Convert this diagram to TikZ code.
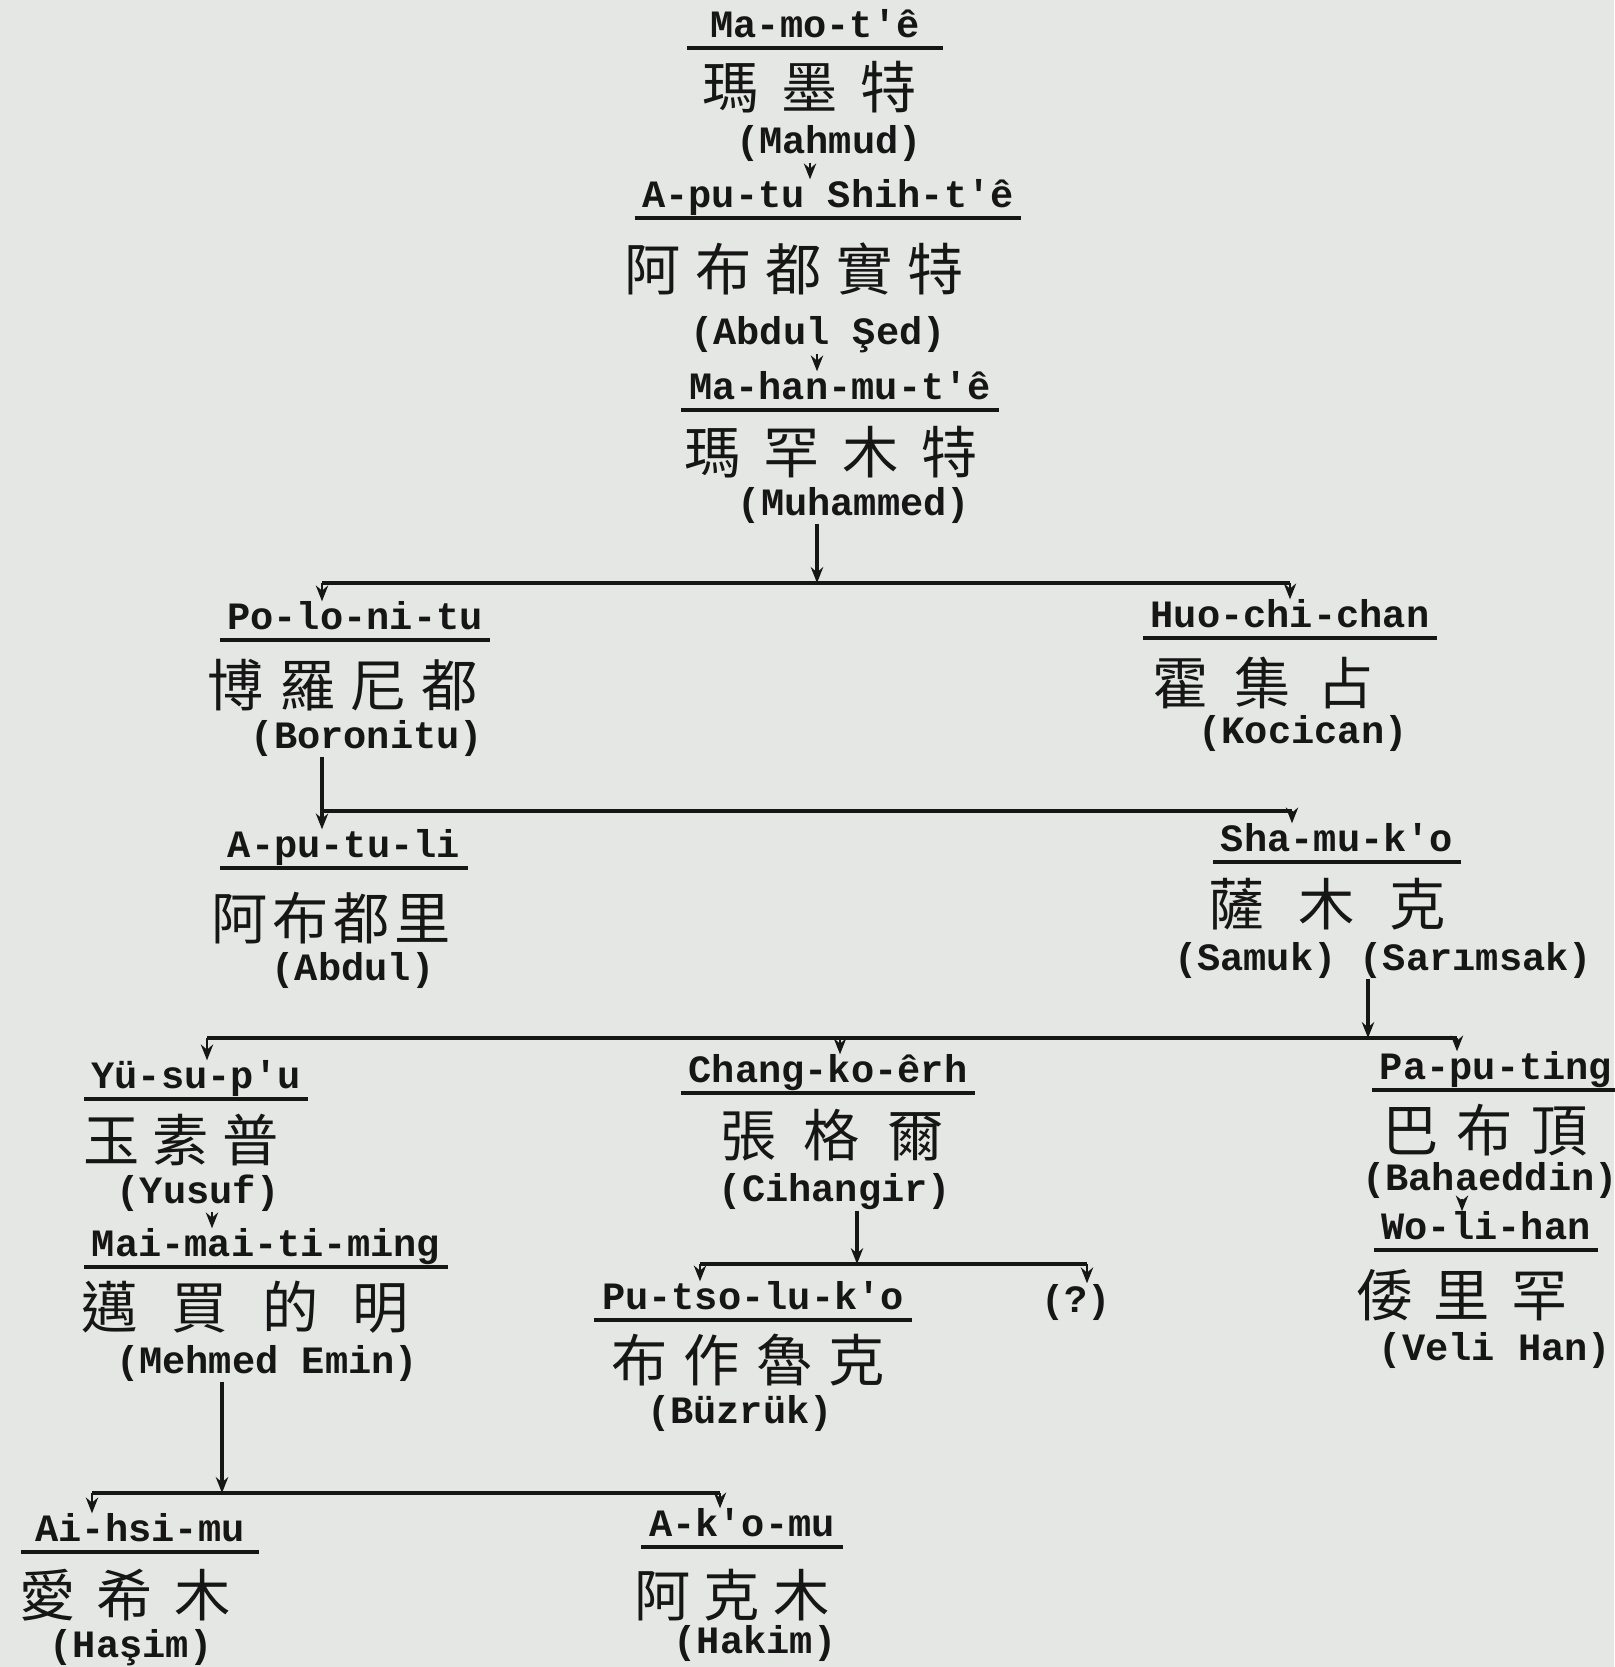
\documentclass[tikz,border=0pt]{standalone}
\usepackage{fontspec}
\setmonofont{Liberation Mono}
\newfontfamily\hanfont{Noto Sans CJK TC}
\usetikzlibrary{arrows.meta}

\definecolor{paper}{RGB}{229,231,228}
\definecolor{ink}{RGB}{22,22,22}

\tikzset{
  rom/.style={anchor=south, text=ink, font=\ttfamily\bfseries\fontsize{11}{12}\selectfont,
    text height=7pt, text depth=2pt, inner xsep=2pt, inner ysep=0.8pt},
  han/.style={text=ink, font={\hanfont\fontsize{16}{18}\selectfont\spaceskip #1pt\relax}, inner sep=1pt},
  tr/.style={text=ink, font=\ttfamily\bfseries\fontsize{11}{12}\selectfont, inner xsep=2pt, inner ysep=0pt},
  arr/.style={draw=ink, line width=0.7pt, -{Stealth[length=4.5pt,width=3.5pt]}},
  bar/.style={draw=ink, line width=1pt},
  uline/.style={draw=ink, line width=0.9pt},
}

\begin{document}
\begin{tikzpicture}[x=0.01cm, y=-0.01cm]
      % paper
      \useasboundingbox (0,0) rectangle (1614,1667);
      \fill[paper] (0,0) rectangle (1614,1667);

      % first three generations
      \node[rom, minimum width=2.55cm] (mahmud-r) at (815,48) {Ma-mo-t'ê};
      \node[han=6.5] (mahmud-c) at (810,87) {瑪 墨 特};
      \node[tr] (mahmud-t) at (829,144) {(Mahmud)};

      \node[rom] (abdulsed-r) at (828,218) {A-pu-tu Shih-t'ê};
      \node[han=4.1] (abdulsed-c) at (794,269) {阿 布 都 實 特};
      \node[tr] (abdulsed-t) at (818,335) {(Abdul Şed)};

      \node[rom] (muhammed-r) at (840,410) {Ma-han-mu-t'ê};
      \node[han=6.5] (muhammed-c) at (831,452) {瑪 罕 木 特};
      \node[tr] (muhammed-t) at (854,505) {(Muhammed)};

      % sons of Muhammed
      \node[rom] (boronitu-r) at (355,640) {Po-lo-ni-tu};
      \node[han=4.3] (boronitu-c) at (343,685) {博 羅 尼 都};
      \node[tr] (boronitu-t) at (367,738) {(Boronitu)};

      \node[rom] (kocican-r) at (1290,638) {Huo-chi-chan};
      \node[han=7.4] (kocican-c) at (1263,683) {霍 集 占};
      \node[tr] (kocican-t) at (1303,733) {(Kocican)};

      % sons of Boronitu
      \node[rom] (abdul-r) at (344,868) {A-pu-tu-li};
      \node[han=1.3] (abdul-c) at (331,918) {阿 布 都 里};
      \node[tr] (abdul-t) at (353,970) {(Abdul)};

      \node[rom] (samuk-r) at (1337,862) {Sha-mu-k'o};
      \node[han=9.8] (samuk-c) at (1327,904) {薩 木 克};
      \node[tr] (samuk-t) at (1383,960) {(Samuk) (Sarımsak)};

      % sons of Samuk
      \node[rom] (yusuf-r) at (196,1099) {Yü-su-p'u};
      \node[han=3.8] (yusuf-c) at (181,1140) {玉 素 普};
      \node[tr] (yusuf-t) at (198,1193) {(Yusuf)};

      \node[rom] (cihangir-r) at (828,1093) {Chang-ko-êrh};
      \node[han=7.7] (cihangir-c) at (832,1135) {張 格 爾};
      \node[tr] (cihangir-t) at (835,1192) {(Cihangir)};

      \node[rom] (bahaeddin-r) at (1496,1090) {Pa-pu-ting};
      \node[han=5.1] (bahaeddin-c) at (1485,1130) {巴 布 頂};
      \node[tr] (bahaeddin-t) at (1490,1180) {(Bahaeddin)};

      % next generation
      \node[rom] (mehmed-r) at (266,1267) {Mai-mai-ti-ming};
      \node[han=9.7] (mehmed-c) at (245,1307) {邁 買 的 明};
      \node[tr] (mehmed-t) at (267,1363) {(Mehmed Emin)};

      \node[rom] (buzruk-r) at (753,1320) {Pu-tso-lu-k'o};
      \node[han=4.6] (buzruk-c) at (748,1360) {布 作 魯 克};
      \node[tr] (buzruk-t) at (740,1413) {(Büzrük)};
      \node[tr] (unknown) at (1076,1302) {(?)};

      \node[rom] (velihan-r) at (1486,1250) {Wo-li-han};
      \node[han=6] (velihan-c) at (1462,1295) {倭 里 罕};
      \node[tr] (velihan-t) at (1495,1350) {(Veli Han)};

      \node[rom, minimum width=2.36cm] (hasim-r) at (140,1552) {Ai-hsi-mu};
      \node[han=6] (hasim-c) at (125,1595) {愛 希 木};
      \node[tr] (hasim-t) at (131,1648) {(Haşim)};

      \node[rom] (hakim-r) at (742,1547) {A-k'o-mu};
      \node[han=3.8] (hakim-c) at (732,1595) {阿 克 木};
      \node[tr] (hakim-t) at (755,1643) {(Hakim)};

      % underlines
      \foreach \n in {mahmud, abdulsed, muhammed, boronitu, kocican, abdul, samuk,
                      yusuf, cihangir, bahaeddin, mehmed, buzruk, velihan, hasim, hakim}
          \draw[uline] (\n-r.south west) -- (\n-r.south east);

      % junctions of the tree
      \coordinate (s-mah) at (810,160);
      \coordinate (s-abd) at (817,350);
      \coordinate (j-muh) at (817,583);
      \coordinate (b-bor) at (322,583);
      \coordinate (b-koc) at (1290,583);
      \coordinate (j-bor) at (322,811);
      \coordinate (b-sam) at (1292,811);
      \coordinate (j-sar) at (1368,1038);
      \coordinate (b-yus) at (207,1038);
      \coordinate (b-cih) at (840,1038);
      \coordinate (b-bah) at (1457,1038);
      \coordinate (s-yus) at (212,1210);
      \coordinate (s-bah) at (1462,1197);
      \coordinate (j-cih) at (857,1264);
      \coordinate (b-buz) at (700,1264);
      \coordinate (b-unk) at (1087,1264);
      \coordinate (j-meh) at (222,1493);
      \coordinate (b-has) at (92,1493);
      \coordinate (b-hak) at (720,1493);

      % single descent
      \draw[arr] (mahmud-t.south -| s-mah) -- (abdulsed-r.north -| s-mah);
      \draw[arr] (abdulsed-t.south -| s-abd) -- (muhammed-r.north -| s-abd);
      \draw[arr] (yusuf-t.south -| s-yus) -- (mehmed-r.north -| s-yus);
      \draw[arr] (bahaeddin-t.south -| s-bah) -- (velihan-r.north -| s-bah);

      % Muhammed to his sons
      \draw[arr, line width=0.9pt] (muhammed-t.south -| j-muh) -- (j-muh);
      \draw[bar] (b-bor) -- (b-koc);
      \foreach \b/\n in {b-bor/boronitu, b-koc/kocican}
          \draw[arr] (\b) -- (\b |- \n-r.north);

      % Boronitu to his sons
      \draw[arr, line width=0.9pt] (boronitu-t.south -| j-bor) -- (abdul-r.north -| j-bor);
      \draw[bar] (j-bor) -- (b-sam);
      \draw[arr] (b-sam) -- (b-sam |- samuk-r.north);

      % Samuk to his sons
      \draw[arr, line width=0.9pt] (samuk-t.south -| j-sar) -- (j-sar);
      \draw[bar] (b-yus) -- (b-bah);
      \foreach \b/\n in {b-yus/yusuf-r, b-cih/cihangir-r, b-bah/bahaeddin-r}
          \draw[arr] (\b) -- (\b |- \n.north);

      % Cihangir to his sons
      \draw[arr, line width=0.9pt] (cihangir-t.south -| j-cih) -- (j-cih);
      \draw[bar] (b-buz) -- (b-unk);
      \foreach \b/\n in {b-buz/buzruk-r, b-unk/unknown}
          \draw[arr] (\b) -- (\b |- \n.north);

      % Mehmed Emin to his sons
      \draw[arr, line width=1pt] (mehmed-t.south -| j-meh) -- (j-meh);
      \draw[bar] (b-has) -- (b-hak);
      \foreach \b/\n in {b-has/hasim, b-hak/hakim}
          \draw[arr] (\b) -- (\b |- \n-r.north);
\end{tikzpicture}
\end{document}
